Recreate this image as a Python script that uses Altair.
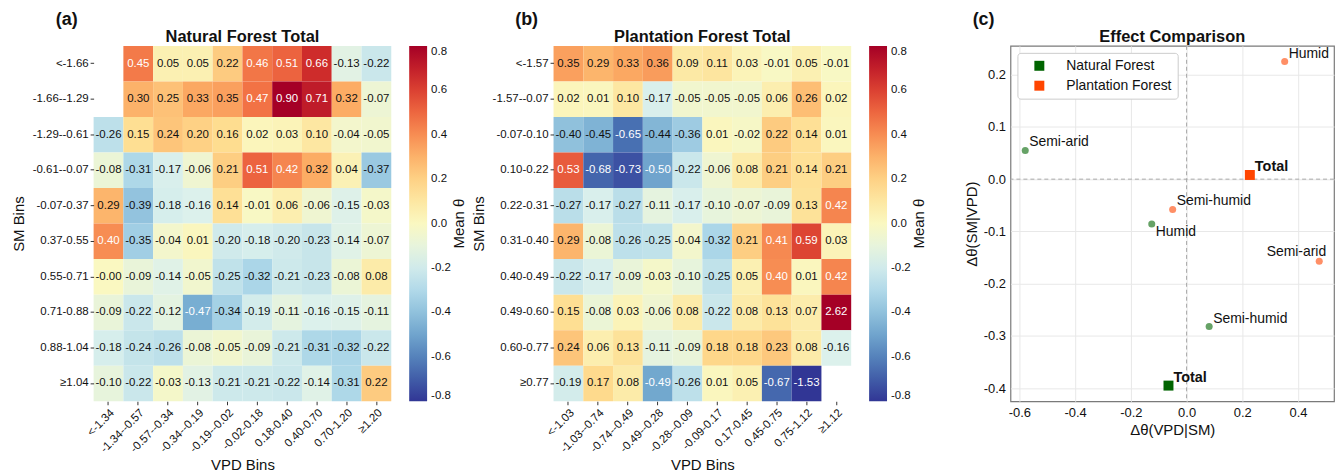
import altair as alt
import pandas as pd

FONT = "Liberation Sans"
TXT = "#111111"
MINUS_FIX = "replace(datum.label, '\u2212', '-')"

# ---------------- Panel (a): Natural forest ----------------
vpd_bins_nf = ["<-1.34", "-1.34--0.57", "-0.57--0.34", "-0.34--0.19", "-0.19--0.02",
               "-0.02-0.18", "0.18-0.40", "0.40-0.70", "0.70-1.20", "≥1.20"]
sm_bins_nf = ["<-1.66", "-1.66--1.29", "-1.29--0.61", "-0.61--0.07", "-0.07-0.37",
              "0.37-0.55", "0.55-0.71", "0.71-0.88", "0.88-1.04", "≥1.04"]
theta_nf = [
    [None, 0.45, 0.05, 0.05, 0.22, 0.46, 0.51, 0.66, -0.13, -0.22],
    [None, 0.30, 0.25, 0.33, 0.35, 0.47, 0.90, 0.71, 0.32, -0.07],
    [-0.26, 0.15, 0.24, 0.20, 0.16, 0.02, 0.03, 0.10, -0.04, -0.05],
    [-0.08, -0.31, -0.17, -0.06, 0.21, 0.51, 0.42, 0.32, 0.04, -0.37],
    [0.29, -0.39, -0.18, -0.16, 0.14, -0.01, 0.06, -0.06, -0.15, -0.03],
    [0.40, -0.35, -0.04, 0.01, -0.20, -0.18, -0.20, -0.23, -0.14, -0.07],
    [-0.0, -0.09, -0.14, -0.05, -0.25, -0.32, -0.21, -0.23, -0.08, 0.08],
    [-0.09, -0.22, -0.12, -0.47, -0.34, -0.19, -0.11, -0.16, -0.15, -0.11],
    [-0.18, -0.24, -0.26, -0.08, -0.05, -0.09, -0.21, -0.31, -0.32, -0.22],
    [-0.10, -0.22, -0.03, -0.13, -0.21, -0.21, -0.22, -0.14, -0.31, 0.22],
]

# ---------------- Panel (b): Plantation forest ----------------
vpd_bins_pf = ["<-1.03", "-1.03--0.74", "-0.74--0.49", "-0.49--0.28", "-0.28--0.09",
               "-0.09-0.17", "0.17-0.45", "0.45-0.75", "0.75-1.12", "≥1.12"]
sm_bins_pf = ["<-1.57", "-1.57--0.07", "-0.07-0.10", "0.10-0.22", "0.22-0.31",
              "0.31-0.40", "0.40-0.49", "0.49-0.60", "0.60-0.77", "≥0.77"]
theta_pf = [
    [0.35, 0.29, 0.33, 0.36, 0.09, 0.11, 0.03, -0.01, 0.05, -0.01],
    [0.02, 0.01, 0.10, -0.17, -0.05, -0.05, -0.05, 0.06, 0.26, 0.02],
    [-0.40, -0.45, -0.65, -0.44, -0.36, 0.01, -0.02, 0.22, 0.14, 0.01],
    [0.53, -0.68, -0.73, -0.50, -0.22, -0.06, 0.08, 0.21, 0.14, 0.21],
    [-0.27, -0.17, -0.27, -0.11, -0.17, -0.10, -0.07, -0.09, 0.13, 0.42],
    [0.29, -0.08, -0.26, -0.25, -0.04, -0.32, 0.21, 0.41, 0.59, 0.03],
    [-0.22, -0.17, -0.09, -0.03, -0.10, -0.25, 0.05, 0.40, 0.01, 0.42],
    [0.15, -0.08, 0.03, -0.06, 0.08, -0.22, 0.08, 0.13, 0.07, 2.62],
    [0.24, 0.06, 0.13, -0.11, -0.09, 0.18, 0.18, 0.23, 0.08, -0.16],
    [-0.19, 0.17, 0.08, -0.49, -0.26, 0.01, 0.05, -0.67, -1.53, None],
]

# ---------------- Panel (c): effect comparison ----------------
forest_c = ["Natural Forest"] * 4 + ["Plantation Forest"] * 4
zone_c = ["Semi-arid", "Semi-humid", "Humid", "Total",
          "Semi-arid", "Semi-humid", "Humid", "Total"]
dvpd_c = [-0.579, 0.081, -0.125, -0.065, 0.476, -0.050, 0.352, 0.227]
dsm_c = [0.055, -0.282, -0.086, -0.395, -0.157, -0.058, 0.225, 0.008]
forest_order = ["Natural Forest", "Plantation Forest"]
forest_colors = ["#006400", "#ff4500"]

cbar_ticks = [-0.8, -0.6, -0.4, -0.2, 0.0, 0.2, 0.4, 0.6, 0.8]

PW, PH = 299, 357
CW = 325


def heat_df(sm, vpd, vals):
    rows = []
    for i, s in enumerate(sm):
        for j, v in enumerate(vpd):
            val = vals[i][j]
            if val is None:
                continue
            rows.append({"sm": s, "vpd": v, "theta": val, "label": f"{val:.2f}"})
    return pd.DataFrame(rows)


def header(tag, title, width):
    tag_t = alt.Chart(pd.DataFrame({"t": [tag]})).mark_text(
        fontSize=18, fontWeight="bold", color=TXT, baseline="middle").encode(
        x=alt.value(-27), y=alt.value(-26), text="t:N")
    ttl = alt.Chart(pd.DataFrame({"t": [title]})).mark_text(
        fontSize=16.5, fontWeight="bold", color=TXT, baseline="alphabetic").encode(
        x=alt.value(width / 2), y=alt.value(-4), text="t:N")
    return tag_t, ttl


def heatmap(sm, vpd, vals, title, tag):
    df = heat_df(sm, vpd, vals)
    x = alt.X("vpd:N", sort=vpd, scale=alt.Scale(domain=vpd),
              axis=alt.Axis(title="VPD Bins", labelAngle=-45, labelAlign="right",
                            labelBaseline="top", labelFontSize=11.5, tickSize=3.5,
                            labelPadding=2, domain=False, titleFontSize=15,
                            titlePadding=3))
    y = alt.Y("sm:N", sort=sm, scale=alt.Scale(domain=sm),
              axis=alt.Axis(title="SM Bins", labelFontSize=11.5, tickSize=3.5,
                            labelPadding=2, domain=False, titleFontSize=15,
                            titlePadding=6))
    rect = alt.Chart(df).mark_rect(strokeWidth=0).encode(
        x=x, y=y,
        color=alt.Color("theta:Q",
                        scale=alt.Scale(scheme=alt.SchemeParams("redyellowblue", extent=[1, 0]),
                                        domain=[-0.8, 0.8], clamp=True),
                        legend=alt.Legend(title=None, orient="right", offset=18,
                                          direction="vertical", gradientLength=PH,
                                          gradientThickness=18, gradientStrokeWidth=0,
                                          values=cbar_ticks, format=".1f",
                                          labelExpr=MINUS_FIX, labelFontSize=11.5,
                                          labelBaseline="middle", labelOverlap=False,
                                          labelOffset=4)),
    )
    text = alt.Chart(df).mark_text(fontSize=11.5).encode(
        x=x, y=y, text="label:N",
        color=alt.condition("datum.theta >= 0.395 || datum.theta <= -0.465",
                            alt.value("white"), alt.value(TXT)),
    )
    tag_t, ttl = header(tag, title, PW)
    cb_t = alt.Chart(pd.DataFrame({"t": ["Mean θ"]})).mark_text(
        fontSize=15, angle=270, color=TXT).encode(
        x=alt.value(PW + 68), y=alt.value(PH / 2), text="t:N")
    return alt.layer(rect, text, tag_t, ttl, cb_t).properties(width=PW, height=PH)


pa = heatmap(sm_bins_nf, vpd_bins_nf, theta_nf, "Natural Forest Total", "(a)")
pb = heatmap(sm_bins_pf, vpd_bins_pf, theta_pf, "Plantation Forest Total", "(b)")

# ---- panel (c)
pts = pd.DataFrame({"forest": forest_c, "zone": zone_c, "dvpd": dvpd_c, "dsm": dsm_c})
xs = alt.X("dvpd:Q", scale=alt.Scale(domain=[-0.632, 0.529], nice=False, zero=False),
           axis=alt.Axis(title="Δθ(VPD|SM)", values=[-0.6, -0.4, -0.2, 0.0, 0.2, 0.4],
                         format=".1f", labelExpr=MINUS_FIX, grid=True, gridColor="#e8e8e8",
                         ticks=False, domain=False, labelPadding=5, labelFontSize=13,
                         titleFontSize=15, titlePadding=3))
ys = alt.Y("dsm:Q", scale=alt.Scale(domain=[-0.425, 0.255], nice=False, zero=False),
           axis=alt.Axis(title="Δθ(SM|VPD)", values=[-0.4, -0.3, -0.2, -0.1, 0.0, 0.1, 0.2],
                         format=".1f", labelExpr=MINUS_FIX, grid=True, gridColor="#e8e8e8",
                         ticks=False, domain=False, labelPadding=5, labelFontSize=13,
                         titleFontSize=15, titlePadding=4))
zero_df = pd.DataFrame({"dvpd": [0.0], "dsm": [0.0]})
vrule = alt.Chart(zero_df).mark_rule(strokeDash=[4, 3], color="#a8a8a8", strokeWidth=1).encode(x=xs)
hrule = alt.Chart(zero_df).mark_rule(strokeDash=[4, 3], color="#a8a8a8", strokeWidth=1).encode(y=ys)

cscale = alt.Scale(domain=forest_order, range=forest_colors)
color_expr = f"datum.forest == '{forest_order[0]}' ? '{forest_colors[0]}' : '{forest_colors[1]}'"
circles = alt.Chart(pts).transform_filter("datum.zone != 'Total'").transform_calculate(
    col=color_expr).mark_circle(size=50, opacity=0.6).encode(
    x=xs, y=ys, fill=alt.Fill("col:N", scale=None))
squares = alt.Chart(pts).transform_filter("datum.zone == 'Total'").mark_square(
    size=100, opacity=1).encode(
    x=xs, y=ys,
    color=alt.Color("forest:N", scale=cscale,
                    legend=alt.Legend(title=None, orient="top-left", offset=7, padding=6,
                                      symbolOffset=9, labelOffset=20, labelFontSize=14,
                                      rowPadding=6, strokeColor="#cccccc", fillColor="white",
                                      cornerRadius=3, symbolType="square", symbolSize=100,
                                      symbolStrokeWidth=0, symbolOpacity=1)))

lab_std = alt.Chart(pts).transform_filter(
    "datum.zone != 'Total' && !(datum.forest == 'Natural Forest' && datum.zone == 'Humid')"
    " && !(datum.forest == 'Plantation Forest' && datum.zone == 'Semi-arid')").mark_text(
    align="left", baseline="alphabetic", dx=4, dy=-4, fontSize=14, color=TXT).encode(
    x=xs, y=ys, text="zone:N")
lab_below = alt.Chart(pts).transform_filter(
    "datum.forest == 'Natural Forest' && datum.zone == 'Humid'").mark_text(
    align="left", baseline="top", dx=4, dy=1, fontSize=14, color=TXT).encode(
    x=xs, y=ys, text="zone:N")
lab_left = alt.Chart(pts).transform_filter(
    "datum.forest == 'Plantation Forest' && datum.zone == 'Semi-arid'").mark_text(
    align="right", baseline="alphabetic", dx=7, dy=-5, fontSize=14, color=TXT).encode(
    x=xs, y=ys, text="zone:N")
lab_tot = alt.Chart(pts).transform_filter("datum.zone == 'Total'").mark_text(
    align="left", baseline="alphabetic", dx=5, dy=-4, fontSize=14.5, fontWeight="bold",
    color=TXT).encode(x=xs, y=ys, text="zone:N")
tag_c, ttl_c = header("(c)", "Effect Comparison", CW)

pc = alt.layer(vrule, hrule, circles, squares, lab_std, lab_below, lab_left, lab_tot,
               tag_c, ttl_c).properties(
    width=CW, height=PH,
    view=alt.ViewBackground(stroke="#7a7a7a", strokeWidth=1.2),
)

left = alt.hconcat(pa, pb, spacing=4).resolve_scale(color="independent").resolve_legend(color="independent")
chart = alt.hconcat(left, pc, spacing=36).resolve_scale(
    color="independent").resolve_legend(color="independent").properties(
    padding={"left": 3, "top": 1, "right": 0, "bottom": 0}
).configure(font=FONT).configure_view(stroke=None).configure_axis(
    labelColor=TXT, titleColor=TXT, tickColor="#333333", titleFontWeight="normal",
    labelFont=FONT, titleFont=FONT
).configure_legend(labelColor=TXT, labelFont=FONT).configure_title(color=TXT, font=FONT)

chart.save("out.html", embed_options={"renderer": "svg", "actions": False})
